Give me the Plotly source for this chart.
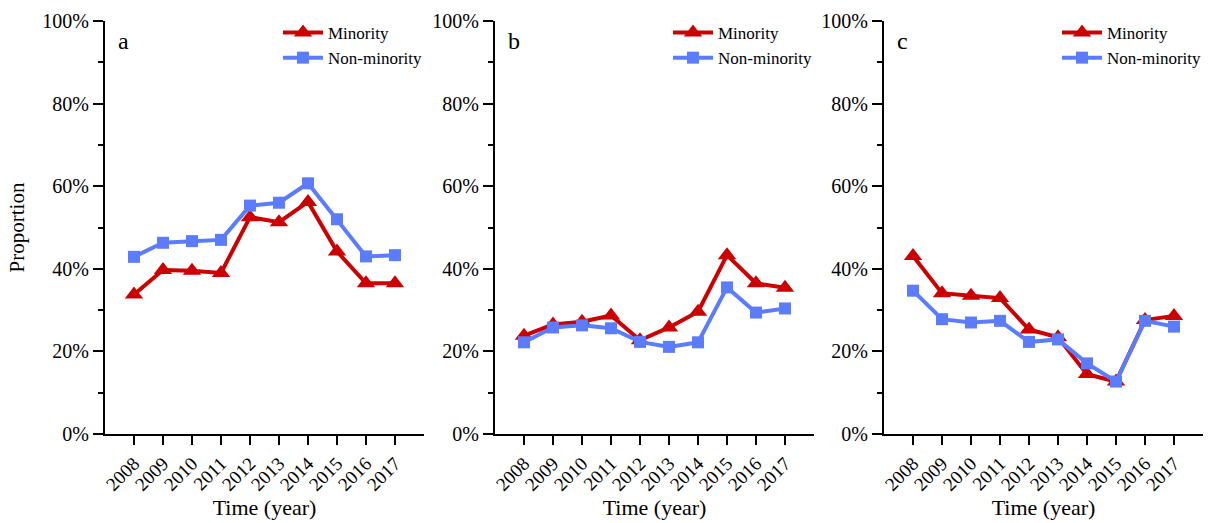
import plotly.graph_objects as go

years = [2008, 2009, 2010, 2011, 2012, 2013, 2014, 2015, 2016, 2017]

minority_a = [33.8, 39.7, 39.5, 39.0, 52.5, 51.3, 56.2, 44.2, 36.5, 36.5]
nonminority_a = [42.9, 46.3, 46.7, 47.0, 55.3, 56.0, 60.7, 52.0, 43.0, 43.3]

minority_b = [23.8, 26.5, 27.2, 28.7, 22.7, 25.8, 29.6, 43.3, 36.5, 35.4]
nonminority_b = [22.2, 25.8, 26.3, 25.6, 22.3, 21.1, 22.2, 35.5, 29.4, 30.4]

minority_c = [43.1, 34.1, 33.5, 32.9, 25.3, 23.4, 14.5, 12.7, 27.6, 28.6]
nonminority_c = [34.7, 27.8, 27.0, 27.4, 22.3, 22.9, 17.1, 12.7, 27.4, 26.0]

panel_labels = ["a", "b", "c"]
series_names = ["Minority", "Non-minority"]
y_ticks = [0, 20, 40, 60, 80, 100]

RED = "#CC0000"
BLUE = "#5B7CFF"
FONT = "Liberation Serif"

panels = [(minority_a, nonminority_a), (minority_b, nonminority_b), (minority_c, nonminority_c)]
x_domains = [(105 / 1224, 424 / 1224), (495 / 1224, 814 / 1224), (884 / 1224, 1203 / 1224)]
y_domain = (1 - 434 / 523, 1 - 21 / 523)

fig = go.Figure()
layout = dict(
    width=1224, height=523,
    margin=dict(l=0, r=0, t=0, b=0, autoexpand=False),
    paper_bgcolor="white", plot_bgcolor="white",
    font=dict(family=FONT, color="black", size=20),
    showlegend=True,
)

for i, (mino, nonm) in enumerate(panels):
    sfx = "" if i == 0 else str(i + 1)
    leg = "legend" if i == 0 else f"legend{i + 1}"
    fig.add_trace(go.Scatter(
        x=years, y=mino, name=series_names[0], mode="lines+markers",
        line=dict(color=RED, width=4),
        marker=dict(symbol="triangle-up", size=16, color=RED),
        xaxis="x" + sfx, yaxis="y" + sfx, legend=leg,
    ))
    fig.add_trace(go.Scatter(
        x=years, y=nonm, name=series_names[1], mode="lines+markers",
        line=dict(color=BLUE, width=4),
        marker=dict(symbol="square", size=12, color=BLUE),
        xaxis="x" + sfx, yaxis="y" + sfx, legend=leg,
    ))
    layout["xaxis" + sfx] = dict(
        domain=list(x_domains[i]), anchor="y" + sfx,
        range=[2007, 2018], tickmode="array", tickvals=years,
        ticktext=[str(y) for y in years], tickangle=-45,
        ticks="outside", ticklen=9, tickwidth=2, tickcolor="black",
        showline=True, linecolor="black", linewidth=2,
        showgrid=False, zeroline=False, automargin=False,
        tickfont=dict(size=19, family=FONT),
        title=dict(text="Time (year)", font=dict(size=22, family=FONT), standoff=2),
    )
    layout["yaxis" + sfx] = dict(
        domain=list(y_domain), anchor="x" + sfx,
        range=[0, 100], tickmode="array", tickvals=y_ticks,
        ticktext=[f"{v}%" for v in y_ticks],
        ticks="outside", ticklen=10, tickwidth=2, tickcolor="black",
        minor=dict(dtick=10, tick0=0, ticks="outside", ticklen=5, tickwidth=2, tickcolor="black"),
        showline=True, linecolor="black", linewidth=2,
        showgrid=False, zeroline=False, automargin=False,
        tickfont=dict(size=20, family=FONT),
        title=dict(text="Proportion" if i == 0 else "", font=dict(size=21, family=FONT), standoff=12),
    )
    layout[leg] = dict(
        x=x_domains[i][0] + 173 / 1224, y=1 - 15 / 523,
        xanchor="left", yanchor="top",
        bgcolor="rgba(0,0,0,0)", borderwidth=0,
        font=dict(size=17, family=FONT), tracegroupgap=0,
        itemwidth=40,
    )

annotations = []
for i, lab in enumerate(panel_labels):
    annotations.append(dict(
        text=lab, xref="paper", yref="paper",
        x=x_domains[i][0] + 11 / 1224, y=1 - 26 / 523,
        xanchor="left", yanchor="top", showarrow=False,
        font=dict(size=24, family=FONT, color="black"),
    ))
layout["annotations"] = annotations

fig.update_layout(**layout)
fig.write_html(
    "out.html",
    config={"displayModeBar": False},
    post_script="document.body.style.margin='0';document.body.style.overflow='hidden';",
)
